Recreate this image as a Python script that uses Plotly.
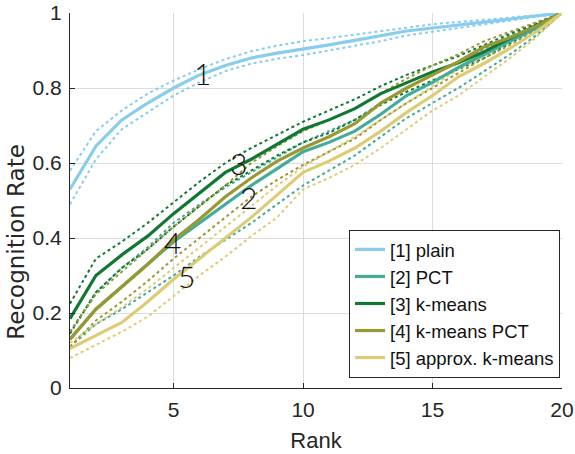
import plotly.graph_objects as go

rank = list(range(1, 21))

names = ["[1] plain", "[2] PCT", "[3] k-means", "[4] k-means PCT", "[5] approx. k-means"]
colors = ["#88CCEE", "#44AA99", "#117733", "#999933", "#DDCC77"]

plain = [0.53, 0.645, 0.715, 0.76, 0.80, 0.835, 0.86, 0.88, 0.893, 0.903, 0.915, 0.927, 0.94, 0.952, 0.96, 0.968, 0.976, 0.985, 0.993, 1.0]
plain_hi = [0.58, 0.685, 0.74, 0.785, 0.82, 0.85, 0.877, 0.898, 0.913, 0.925, 0.933, 0.942, 0.952, 0.962, 0.97, 0.976, 0.982, 0.988, 0.994, 1.0]
plain_lo = [0.49, 0.61, 0.69, 0.735, 0.78, 0.815, 0.845, 0.865, 0.878, 0.888, 0.9, 0.912, 0.925, 0.94, 0.95, 0.96, 0.97, 0.982, 0.99, 1.0]

pct = [0.13, 0.21, 0.27, 0.33, 0.39, 0.44, 0.49, 0.54, 0.585, 0.63, 0.655, 0.685, 0.73, 0.78, 0.815, 0.855, 0.89, 0.925, 0.96, 1.0]
pct_hi = [0.15, 0.255, 0.32, 0.375, 0.44, 0.49, 0.535, 0.575, 0.615, 0.655, 0.685, 0.715, 0.76, 0.8, 0.835, 0.87, 0.905, 0.94, 0.97, 1.0]
pct_lo = [0.11, 0.17, 0.21, 0.255, 0.3, 0.35, 0.395, 0.44, 0.49, 0.54, 0.58, 0.62, 0.67, 0.72, 0.76, 0.8, 0.845, 0.89, 0.94, 1.0]

km = [0.185, 0.30, 0.355, 0.405, 0.465, 0.52, 0.575, 0.61, 0.65, 0.69, 0.715, 0.745, 0.785, 0.815, 0.843, 0.867, 0.897, 0.933, 0.967, 1.0]
km_hi = [0.225, 0.345, 0.39, 0.44, 0.495, 0.55, 0.6, 0.64, 0.675, 0.71, 0.74, 0.77, 0.805, 0.835, 0.86, 0.885, 0.915, 0.945, 0.972, 1.0]
km_lo = [0.145, 0.255, 0.32, 0.37, 0.43, 0.485, 0.54, 0.58, 0.62, 0.655, 0.68, 0.715, 0.755, 0.79, 0.82, 0.85, 0.88, 0.92, 0.958, 1.0]

kmpct = [0.13, 0.21, 0.27, 0.33, 0.395, 0.45, 0.51, 0.56, 0.605, 0.64, 0.67, 0.705, 0.76, 0.8, 0.835, 0.87, 0.91, 0.935, 0.965, 1.0]
kmpct_hi = [0.15, 0.25, 0.31, 0.37, 0.43, 0.485, 0.54, 0.6, 0.645, 0.685, 0.715, 0.745, 0.785, 0.825, 0.86, 0.89, 0.925, 0.95, 0.975, 1.0]
kmpct_lo = [0.11, 0.18, 0.23, 0.285, 0.345, 0.4, 0.455, 0.51, 0.555, 0.595, 0.63, 0.665, 0.715, 0.76, 0.8, 0.84, 0.88, 0.915, 0.955, 1.0]

approx = [0.105, 0.14, 0.175, 0.23, 0.29, 0.345, 0.4, 0.455, 0.515, 0.575, 0.605, 0.64, 0.685, 0.735, 0.78, 0.83, 0.866, 0.906, 0.95, 1.0]
approx_hi = [0.12, 0.17, 0.215, 0.265, 0.32, 0.375, 0.43, 0.485, 0.54, 0.59, 0.63, 0.67, 0.715, 0.76, 0.805, 0.85, 0.885, 0.925, 0.96, 1.0]
approx_lo = [0.08, 0.115, 0.15, 0.19, 0.245, 0.3, 0.35, 0.405, 0.455, 0.53, 0.56, 0.595, 0.64, 0.69, 0.74, 0.78, 0.83, 0.88, 0.935, 1.0]

solids = [plain, pct, km, kmpct, approx]
his = [plain_hi, pct_hi, km_hi, kmpct_hi, approx_hi]
los = [plain_lo, pct_lo, km_lo, kmpct_lo, approx_lo]

label_text = ["1", "2", "3", "4", "5"]
label_x = [6.1, 7.9, 7.5, 4.95, 5.5]
label_y = [0.84, 0.51, 0.60, 0.39, 0.30]

SANS = "Arial, 'Liberation Sans', sans-serif"

fig = go.Figure()
for i in range(5):
    for band in (his[i], los[i]):
        fig.add_trace(go.Scatter(x=rank, y=band, mode="lines", showlegend=False,
                                 line=dict(color=colors[i], width=2, dash="dot"),
                                 hoverinfo="skip"))
for i in range(5):
    fig.add_trace(go.Scatter(x=rank, y=solids[i], mode="lines", name=names[i],
                             line=dict(color=colors[i], width=3.2)))

for t, x, y in zip(label_text, label_x, label_y):
    fig.add_annotation(x=x, y=y, text=t, showarrow=False,
                       font=dict(family="Lato", size=30, color="#111111", weight=300))

# y-axis title placed as annotation (offset below centre as in the original)
fig.add_annotation(xref="paper", yref="paper", x=-0.11, y=0.39, text="Recognition Rate",
                   textangle=-90, showarrow=False, xanchor="center", yanchor="middle",
                   font=dict(family="DejaVu Sans", size=23, color="#262626"))

axis_common = dict(showline=True, linecolor="#262626", linewidth=1, mirror=False,
                   ticks="inside", ticklen=5, tickcolor="#262626",
                   showgrid=True, gridcolor="#DCDCDC", gridwidth=1, zeroline=False,
                   automargin=False,
                   tickfont=dict(family=SANS, size=21, color="#262626"))

fig.update_xaxes(range=[1, 20], tickvals=[5, 10, 15, 20], title_text="Rank",
                 title_standoff=12, ticklabelstandoff=3,
                 title_font=dict(family=SANS, size=22, color="#262626"), **axis_common)
fig.update_yaxes(range=[0, 1], tickvals=[0, 0.2, 0.4, 0.6, 0.8, 1.0],
                 ticktext=["0", "0.2", "0.4", "0.6", "0.8", "1"],
                 ticklabelstandoff=3, **axis_common)

fig.update_layout(
    width=575, height=454,
    margin=dict(l=70, r=13, t=13, b=66, autoexpand=False),
    plot_bgcolor="white", paper_bgcolor="white",
    legend=dict(x=0.996, y=0.027, xanchor="right", yanchor="bottom",
                bgcolor="white", bordercolor="#262626", borderwidth=1,
                font=dict(family=SANS, size=18.5, color="#111111"),
                tracegroupgap=0, itemwidth=30),
)

fig.write_html("out.html", config={"displayModeBar": False},
               post_script="document.body.style.margin='0';")
